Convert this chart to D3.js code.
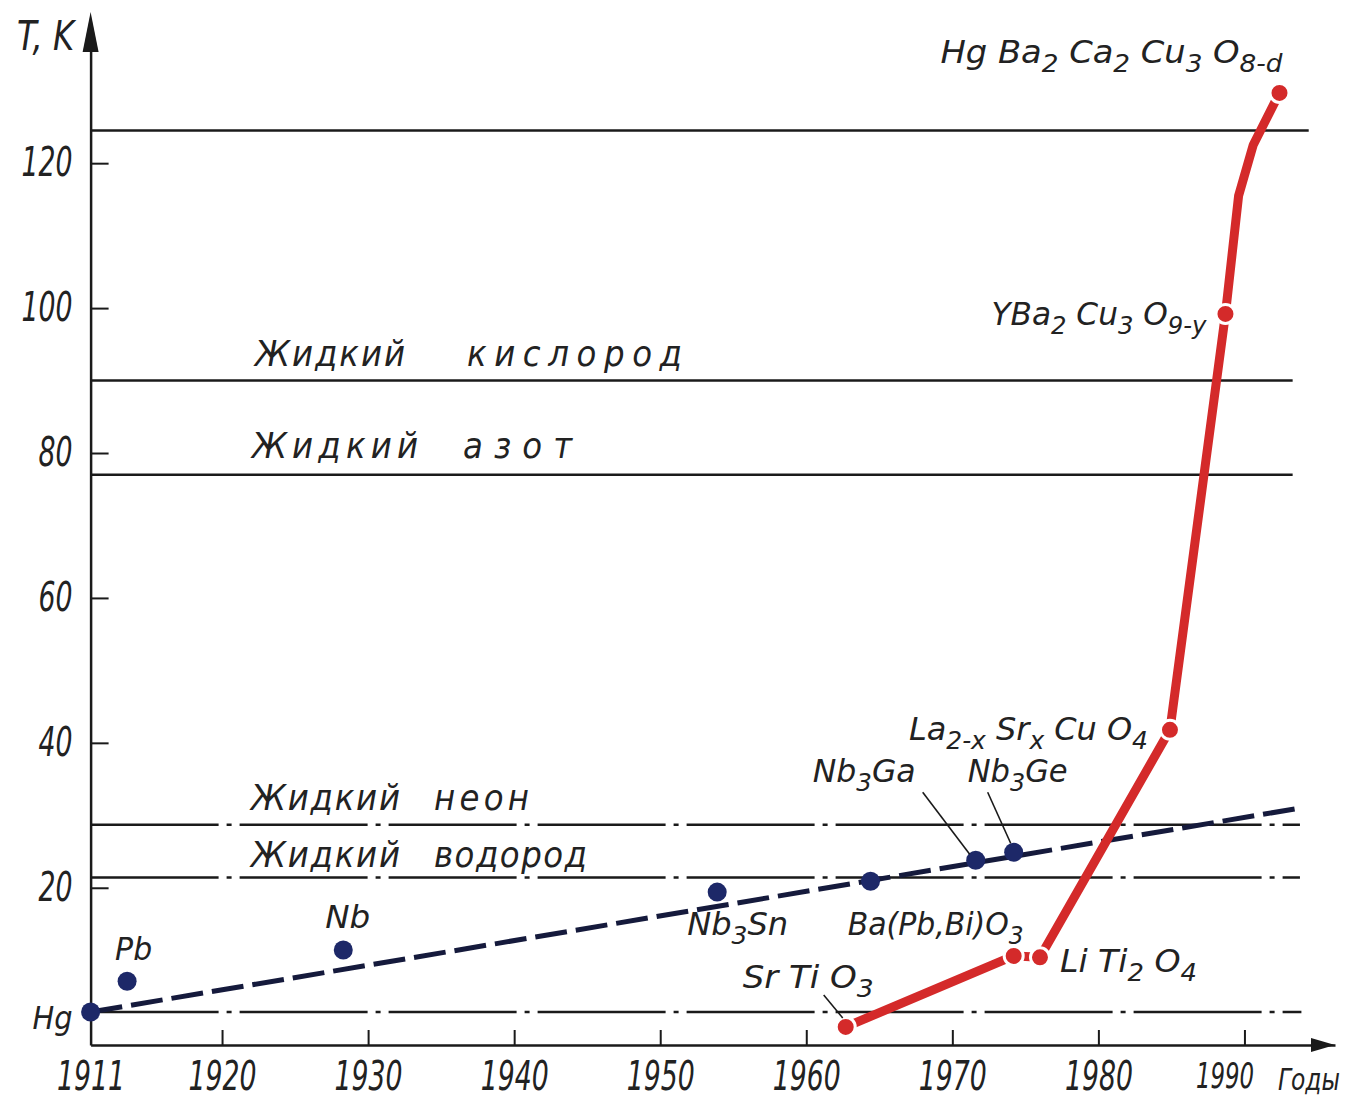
<!DOCTYPE html>
<html>
<head>
<meta charset="utf-8">
<script src="https://cdn.jsdelivr.net/npm/d3@7"></script>
<style>
  body { margin: 0; background: #fff; }
  svg text {
    font-family: "Liberation Sans Narrow", "DejaVu Sans Condensed", "Liberation Sans", sans-serif;
    font-style: italic;
    fill: #222;
    white-space: pre;
  }
</style>
</head>
<body>
<svg id="chart" width="1357" height="1100"></svg>
<script>
const yearTicks = [1911, 1920, 1930, 1940, 1950, 1960, 1970, 1980, 1990];
const tempTicks = [20, 40, 60, 80, 100, 120];

// horizontal reference levels (K) and the year where each line stops
const levelTemps = [124.5, 90, 77, 28.7, 21.4, 2.85];
const levelEnds = [1994.4, 1993.3, 1993.3, 1993.8, 1993.8, 1993.9];
const levelChain = [false, false, false, true, true, true];

const liquidNames = ['Жидкий кислород', 'Жидкий азот', 'Жидкий неон', 'Жидкий водород'];
const liquidTemps = [90, 77, 28.7, 21.4];

// classic superconductors (blue), {..} = subscript
const metalNames = ['Hg', 'Pb', 'Nb', 'Nb{3}Sn', '', 'Nb{3}Ga', 'Nb{3}Ge'];
const metalYears = [1911, 1913.5, 1928.3, 1953.9, 1964.4, 1971.6, 1974.2];
const metalTemps = [2.85, 7.1, 11.4, 19.4, 20.9, 23.8, 24.9];
const trendYears = [1911, 1993.8];
const trendTemps = [2.85, 31.0];

// oxides (red)
const oxideNames = ['Sr Ti O{3}', 'Ba(Pb,Bi)O{3}', 'Li Ti{2} O{4}', 'La{2-x} Sr{x} Cu O{4}', 'YBa{2} Cu{3} O{9-y}', 'Hg Ba{2} Ca{2} Cu{3} O{8-d}'];
const oxideYears = [1962.7, 1974.2, 1976.0, 1984.9, 1988.7, 1992.4];
const oxideTemps = [0.8, 10.6, 10.4, 41.8, 99.2, 129.7];
// the drawn curve has extra bends between the last two points
const curveYears = [1962.7, 1974.2, 1976.0, 1984.9, 1988.7, 1989.6, 1990.6, 1992.4];
const curveTemps = [0.8, 10.6, 10.4, 41.8, 99.2, 115.5, 122.5, 129.7];

// label layout: offset from the point (px), width of the label
const metalLabels = [
  { dx: -58, dy: 17, w: 40 },
  { dx: -12, dy: -21, w: 37 },
  { dx: -18, dy: -22, w: 45 },
  { dx: -30, dy: 43, w: 101 },
  null,
  { dx: -163, dy: -78, w: 103, lead: [-53, -68, -6, -6] },
  { dx: -46, dy: -70, w: 100, lead: [-26, -60, -3, -9] }
];
const oxideLabels = [
  { dx: -103, dy: -39, w: 131, lead: [-22, -32, -3, -9] },
  { dx: -166, dy: -21, w: 176 },
  { dx: 20, dy: 15, w: 137 },
  { dx: -261, dy: 10, w: 239 },
  { dx: -234, dy: 11, w: 215 },
  { dx: -339, dy: -30, w: 342 }
];
// liquid labels: start/width of each word, baseline offset above its line
const liquidLayout = [
  { x1: 255, w1: 150, x2: 467, w2: 215, dy: -15 },
  { x1: 252, w1: 166, x2: 463, w2: 109, dy: -17 },
  { x1: 251, w1: 149, x2: 434, w2: 95, dy: -15 },
  { x1: 251, w1: 149, x2: 434, w2: 153, dy: -11 }
];

const red = '#d42a2a';
const navy = '#1d2868';
const ink = '#1a1a1a';

const svg = d3.select('#chart');

const x = d3.scaleLinear().domain([1911, 1996.2]).range([90.6, 1335]);
const y = d3.scaleLinear().domain([-1.7, 137]).range([1045, 40]);

function formula(g, str, px, py, w, size) {
  const t = g.append('text')
    .attr('x', px)
    .attr('y', py)
    .attr('font-size', size)
    .attr('textLength', w)
    .attr('lengthAdjust', 'spacingAndGlyphs');
  const parts = str.split(/(\{[^}]*\})/).filter(s => s.length);
  let low = false;
  parts.forEach(p => {
    if (p[0] === '{') {
      t.append('tspan').attr('dy', low ? 0 : 9).attr('font-size', size * 0.78).text(p.slice(1, -1));
      low = true;
    } else {
      t.append('tspan').attr('dy', low ? -9 : 0).text(p);
      low = false;
    }
  });
}

// reference levels
svg.append('g')
  .selectAll('line')
  .data(levelTemps)
  .join('line')
  .attr('x1', x(1911))
  .attr('x2', (d, i) => x(levelEnds[i]))
  .attr('y1', d => y(d))
  .attr('y2', d => y(d))
  .attr('stroke', ink)
  .attr('stroke-width', 2.5)
  .attr('stroke-dasharray', (d, i) => levelChain[i] ? '128 8 5 8' : null);

// liquid names
liquidNames.forEach((name, i) => {
  const words = name.split(' ');
  const L = liquidLayout[i];
  const by = y(liquidTemps[i]) + L.dy;
  svg.append('text').attr('x', L.x1).attr('y', by).attr('font-size', 36)
    .attr('textLength', L.w1).attr('lengthAdjust', 'spacing').text(words[0]);
  svg.append('text').attr('x', L.x2).attr('y', by).attr('font-size', 36)
    .attr('textLength', L.w2).attr('lengthAdjust', 'spacing').text(words[1]);
});

// axes
const yAxis = svg.append('g')
  .attr('transform', `translate(${x(1911)},0)`)
  .call(d3.axisLeft(y).tickValues(tempTicks).tickSizeInner(-18).tickSizeOuter(0).tickPadding(18));
const xAxis = svg.append('g')
  .attr('transform', `translate(0,${y(-1.7)})`)
  .call(d3.axisBottom(x).tickValues(yearTicks).tickFormat(d3.format('d'))
    .tickSizeInner(-15).tickSizeOuter(0).tickPadding(17));

[yAxis, xAxis].forEach(a => {
  a.attr('font-family', null).attr('font-size', null);
  a.select('.domain').attr('stroke', ink).attr('stroke-width', 2.5);
  a.selectAll('.tick line').attr('stroke', ink).attr('stroke-width', 2);
  a.selectAll('.tick text')
    .attr('font-size', 40)
    .attr('fill', '#222')
    .attr('textLength', function () { return this.textContent.length * 17; })
    .attr('lengthAdjust', 'spacingAndGlyphs');
});
xAxis.selectAll('.tick').filter(d => d === 1911).select('line').remove();
// the last year label sits a little left of its tick, clear of the axis name
xAxis.selectAll('.tick').filter(d => d === 1990).select('text')
  .attr('x', -20).attr('font-size', 36).attr('textLength', 58);

// arrow heads
const ax = x(1911), ay = y(-1.7);
svg.append('path')
  .attr('d', `M${ax - 8},${y(137) + 12} L${ax},${y(137) - 28} L${ax + 8},${y(137) + 12} Z`)
  .attr('fill', ink);
svg.append('path')
  .attr('d', `M${x(1996.2) - 24},${ay - 7} L${x(1996.2)},${ay} L${x(1996.2) - 24},${ay + 7} Z`)
  .attr('fill', ink);

svg.append('text').attr('x', 17).attr('y', 50).attr('font-size', 40)
  .attr('textLength', 57).attr('lengthAdjust', 'spacingAndGlyphs').text('T, K');
svg.append('text').attr('x', 1340).attr('y', 1090).attr('font-size', 30)
  .attr('text-anchor', 'end')
  .attr('textLength', 62).attr('lengthAdjust', 'spacingAndGlyphs').text('Годы');

// blue trend
const line = d3.line().x(d => x(d[0])).y(d => y(d[1]));
svg.append('path')
  .attr('d', line(trendYears.map((yr, i) => [yr, trendTemps[i]])))
  .attr('fill', 'none')
  .attr('stroke', '#151a3c')
  .attr('stroke-width', 5)
  .attr('stroke-dasharray', '32 9');

// red curve
svg.append('path')
  .attr('d', line(curveYears.map((yr, i) => [yr, curveTemps[i]])))
  .attr('fill', 'none')
  .attr('stroke', red)
  .attr('stroke-width', 9)
  .attr('stroke-linejoin', 'round')
  .attr('stroke-linecap', 'round');

// points
svg.append('g')
  .selectAll('circle')
  .data(metalYears)
  .join('circle')
  .attr('cx', d => x(d))
  .attr('cy', (d, i) => y(metalTemps[i]))
  .attr('r', 9.5)
  .attr('fill', navy);

svg.append('g')
  .selectAll('circle')
  .data(oxideYears)
  .join('circle')
  .attr('cx', d => x(d))
  .attr('cy', (d, i) => y(oxideTemps[i]))
  .attr('r', 9.5)
  .attr('fill', red)
  .attr('stroke', '#fff')
  .attr('stroke-width', 3);

// labels
const labels = svg.append('g');
function drawLabels(names, years, temps, layout) {
  names.forEach((name, i) => {
    const L = layout[i];
    if (!L || !name) return;
    const px = x(years[i]), py = y(temps[i]);
    formula(labels, name, px + L.dx, py + L.dy, L.w, 32);
    if (L.lead) {
      labels.append('line')
        .attr('x1', px + L.lead[0]).attr('y1', py + L.lead[1])
        .attr('x2', px + L.lead[2]).attr('y2', py + L.lead[3])
        .attr('stroke', ink).attr('stroke-width', 1.6);
    }
  });
}
drawLabels(metalNames, metalYears, metalTemps, metalLabels);
drawLabels(oxideNames, oxideYears, oxideTemps, oxideLabels);
</script>
</body>
</html>
